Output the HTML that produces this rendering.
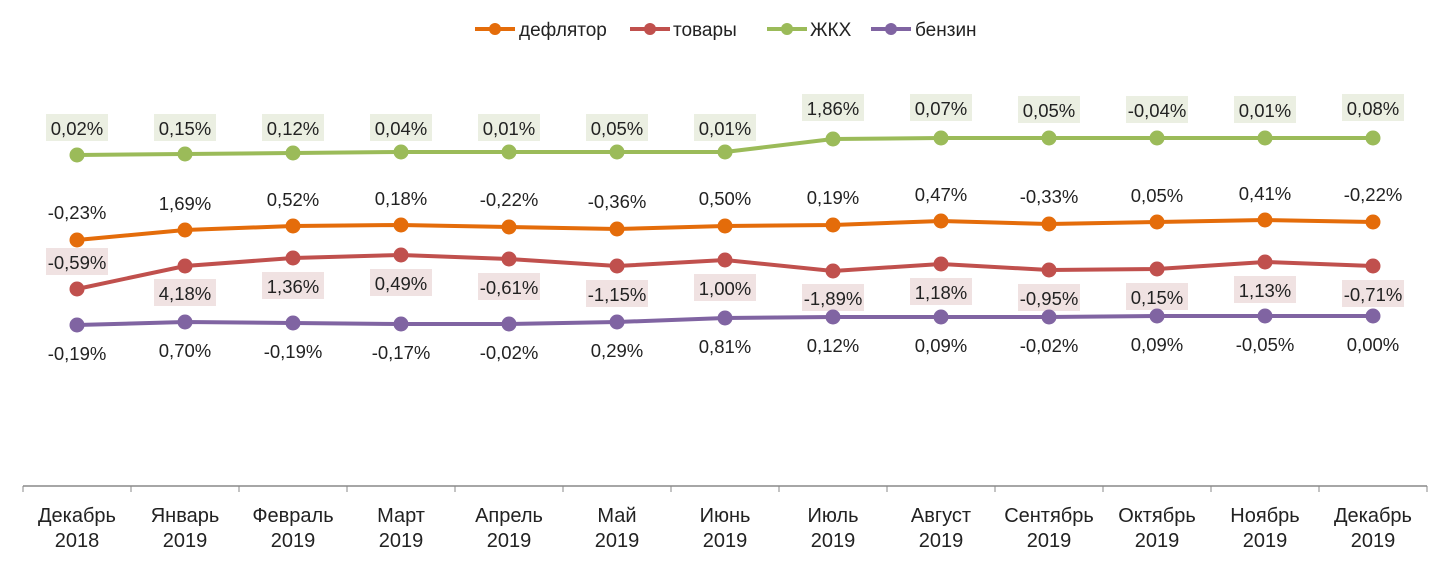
<!DOCTYPE html>
<html><head><meta charset="utf-8"><style>
html,body{margin:0;padding:0;background:#fff;width:1450px;height:562px;overflow:hidden}
text{font-family:"Liberation Sans",sans-serif;fill:#222}
</style></head><body>
<svg width="1450" height="562" xmlns="http://www.w3.org/2000/svg" id="s">
<g font-size="19">
<line x1="475" y1="29" x2="515" y2="29" stroke="#e46c0a" stroke-width="4"/><circle cx="495" cy="29" r="6" fill="#e46c0a"/><text x="519" y="36">дефлятор</text>
<line x1="630" y1="29" x2="670" y2="29" stroke="#c0504d" stroke-width="4"/><circle cx="650" cy="29" r="6" fill="#c0504d"/><text x="673" y="36">товары</text>
<line x1="767" y1="29" x2="807" y2="29" stroke="#9bbb59" stroke-width="4"/><circle cx="787" cy="29" r="6" fill="#9bbb59"/><text x="810" y="36">ЖКХ</text>
<line x1="871" y1="29" x2="911" y2="29" stroke="#8064a2" stroke-width="4"/><circle cx="891" cy="29" r="6" fill="#8064a2"/><text x="915" y="36">бензин</text>
</g>
<g id="g"></g>
<line x1="23" y1="486" x2="1427" y2="486" stroke="#888" stroke-width="1.5"/>
<g id="ax" font-size="20" text-anchor="middle"></g>
</svg>
<script>
var X=[];for(var i=0;i<13;i++)X.push(77+108*i);
var S=[
{c:"#9bbb59",y:[155,154,153,152,152,152,152,139,138,138,138,138,138],box:"#ebefe2",
 l:["0,02%","0,15%","0,12%","0,04%","0,01%","0,05%","0,01%","1,86%","0,07%","0,05%","-0,04%","0,01%","0,08%"],
 ly:[128,128,128,128,128,128,128,108,108,110,110,110,108]},
{c:"#e46c0a",y:[240,230,226,225,227,229,226,225,221,224,222,220,222],
 l:["-0,23%","1,69%","0,52%","0,18%","-0,22%","-0,36%","0,50%","0,19%","0,47%","-0,33%","0,05%","0,41%","-0,22%"],
 ly:[212,203,199,198,199,201,198,197,194,196,195,193,194]},
{c:"#c0504d",y:[289,266,258,255,259,266,260,271,264,270,269,262,266],box:"#f0e2e2",
 l:["-0,59%","4,18%","1,36%","0,49%","-0,61%","-1,15%","1,00%","-1,89%","1,18%","-0,95%","0,15%","1,13%","-0,71%"],
 ly:[262,293,286,283,287,294,288,298,292,298,297,290,294]},
{c:"#8064a2",y:[325,322,323,324,324,322,318,317,317,317,316,316,316],
 l:["-0,19%","0,70%","-0,19%","-0,17%","-0,02%","0,29%","0,81%","0,12%","0,09%","-0,02%","0,09%","-0,05%","0,00%"],
 ly:[353,350,351,352,352,350,346,345,345,345,344,344,344]}];
var h="";
S.forEach(function(s){
 var p=X.map(function(x,i){return x+","+s.y[i]}).join(" ");
 h+='<polyline points="'+p+'" fill="none" stroke="'+s.c+'" stroke-width="4"/>';
 X.forEach(function(x,i){h+='<circle cx="'+x+'" cy="'+s.y[i]+'" r="7.5" fill="'+s.c+'"/>';});
 X.forEach(function(x,i){
  if(s.box)h+='<rect x="'+(x-31)+'" y="'+(s.ly[i]-14)+'" width="62" height="27" fill="'+s.box+'"/>';
  h+='<text x="'+x+'" y="'+(s.ly[i]+7)+'" font-size="18.5" text-anchor="middle">'+s.l[i]+'</text>';
 });
});
document.getElementById("g").innerHTML=h;
var M=["Декабрь","Январь","Февраль","Март","Апрель","Май","Июнь","Июль","Август","Сентябрь","Октябрь","Ноябрь","Декабрь"];
var a="";
for(var i=0;i<=13;i++){var tx=23+108*i;a+='<line x1="'+tx+'" y1="486" x2="'+tx+'" y2="492" stroke="#888"/>';}
X.forEach(function(x,i){a+='<text x="'+x+'" y="522">'+M[i]+'</text><text x="'+x+'" y="547">'+(i==0?"2018":"2019")+'</text>';});
document.getElementById("ax").innerHTML=a;
</script>
</body></html>
